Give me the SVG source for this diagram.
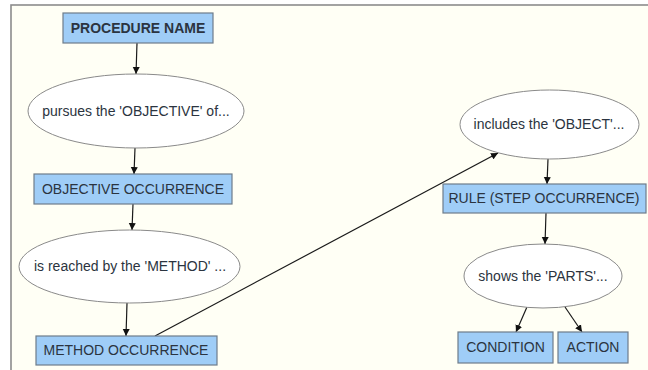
<svg xmlns="http://www.w3.org/2000/svg" width="648" height="370" viewBox="0 0 648 370">
<style>
.box{fill:#9fcdf7;stroke:#6e7c8a;stroke-width:1.2}
.ell{fill:#ffffff;stroke:#8a8a8a;stroke-width:1}
.t{font-family:"Liberation Sans",Arial,sans-serif;font-size:14px;fill:#2b3440;text-anchor:middle}
.b{font-weight:bold}
.c{stroke:#1a1a1a;stroke-width:1.2;fill:none;marker-end:url(#ah)}
</style>
<defs>
<marker id="ah" markerWidth="8" markerHeight="8" refX="7" refY="4" orient="auto" markerUnits="userSpaceOnUse">
<path d="M0,0.5 L7,4 L0,7.5 Z" fill="#111"/>
</marker>
</defs>
<rect x="0" y="0" width="648" height="370" fill="#ffffff"/>
<rect x="11" y="5" width="700" height="400" fill="#fffff5" stroke="#8c8c8c" stroke-width="1.6"/>
<g id="connectors">
<line class="c" x1="137" y1="43" x2="136" y2="74"/>
<line class="c" x1="135" y1="148" x2="134" y2="174"/>
<line class="c" x1="133" y1="204" x2="132" y2="230"/>
<line class="c" x1="127" y1="303" x2="126" y2="336"/>
<line class="c" x1="155" y1="336" x2="498" y2="153"/>
<line class="c" x1="548" y1="159" x2="547" y2="184"/>
<line class="c" x1="546" y1="213" x2="545" y2="244"/>
<line class="c" x1="527" y1="307" x2="516" y2="332"/>
<line class="c" x1="565" y1="307" x2="582" y2="332"/>
</g>
<g id="procedure-name">
<rect class="box" x="63" y="13" width="150" height="30"/>
<text class="t b" x="138" y="33">PROCEDURE NAME</text>
</g>
<g id="pursues">
<ellipse class="ell" cx="136" cy="111" rx="108" ry="37"/>
<text class="t" x="136" y="116">pursues the 'OBJECTIVE' of...</text>
</g>
<g id="objective-occurrence">
<rect class="box" x="34" y="174" width="198" height="30"/>
<text class="t" x="133" y="194">OBJECTIVE OCCURRENCE</text>
</g>
<g id="is-reached">
<ellipse class="ell" cx="129.5" cy="266.5" rx="110.5" ry="36.5"/>
<text class="t" x="130" y="271">is reached by the 'METHOD' ...</text>
</g>
<g id="method-occurrence">
<rect class="box" x="36" y="336" width="181" height="29"/>
<text class="t" x="126" y="355">METHOD OCCURRENCE</text>
</g>
<g id="includes">
<ellipse class="ell" cx="549.5" cy="124.5" rx="89.5" ry="34.5"/>
<text class="t" x="549" y="129">includes the 'OBJECT'...</text>
</g>
<g id="rule">
<rect class="box" x="443" y="184" width="203" height="29"/>
<text class="t" x="544" y="203">RULE (STEP OCCURRENCE)</text>
</g>
<g id="shows">
<ellipse class="ell" cx="543" cy="276" rx="79" ry="32"/>
<text class="t" x="543" y="281">shows the 'PARTS'...</text>
</g>
<g id="condition">
<rect class="box" x="458" y="332" width="95" height="31"/>
<text class="t" x="505.5" y="352">CONDITION</text>
</g>
<g id="action">
<rect class="box" x="558" y="332" width="70" height="31"/>
<text class="t" x="593" y="352">ACTION</text>
</g>
</svg>
